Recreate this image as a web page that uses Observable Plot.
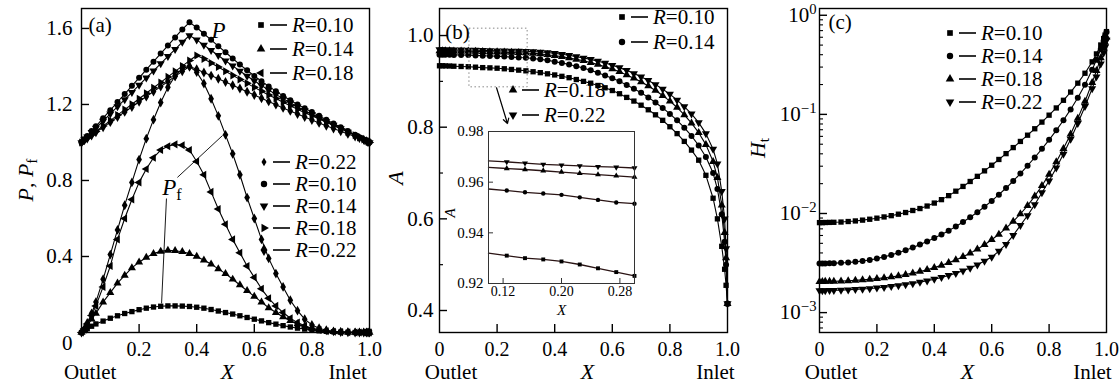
<!DOCTYPE html>
<html><head><meta charset="utf-8">
<script src="https://cdn.jsdelivr.net/npm/d3@7"></script>
<script src="https://cdn.jsdelivr.net/npm/@observablehq/plot@0.6"></script>
<style>
body{margin:0;background:#fff;}
#wrap{position:relative;width:1119px;height:392px;overflow:hidden;background:#fff;font-family:"Liberation Serif","DejaVu Serif","Times New Roman",serif;}
#wrap svg{position:absolute;top:0;}
#wrap svg text{font-family:"Liberation Serif","DejaVu Serif","Times New Roman",serif;}
</style></head><body><div id="wrap"></div>
<script>
// ---------------- data ----------------
const X = [0,0.01,0.02,0.035,0.05,0.075,0.1,0.125,0.15,0.175,0.2,0.225,0.25,0.275,0.3,0.325,0.35,0.375,0.4,0.425,0.45,0.475,0.5,0.525,0.55,0.575,0.6,0.625,0.65,0.675,0.7,0.725,0.75,0.775,0.8,0.825,0.85,0.875,0.9,0.925,0.95,0.965,0.98,0.99,0.995,1.0];
const R_LABELS = ["0.10","0.14","0.18","0.22"];

// (a) P and Pf
const P_R010 = [1.00,1.017,1.034,1.06,1.085,1.128,1.17,1.213,1.255,1.298,1.34,1.383,1.425,1.468,1.51,1.553,1.595,1.632,1.605,1.572,1.54,1.507,1.475,1.442,1.41,1.38,1.35,1.322,1.295,1.27,1.245,1.222,1.20,1.18,1.16,1.14,1.12,1.10,1.08,1.06,1.04,1.028,1.016,1.008,1.004,1.0];
const P_R014 = [1.00,1.015,1.03,1.053,1.076,1.113,1.151,1.189,1.226,1.264,1.302,1.34,1.377,1.415,1.453,1.49,1.528,1.563,1.54,1.512,1.485,1.458,1.43,1.403,1.376,1.35,1.325,1.30,1.276,1.253,1.23,1.209,1.188,1.168,1.148,1.129,1.11,1.091,1.073,1.055,1.037,1.026,1.015,1.008,1.004,1.0];
const P_R018 = [1.00,1.012,1.023,1.04,1.058,1.087,1.115,1.144,1.173,1.201,1.23,1.259,1.288,1.316,1.345,1.374,1.402,1.431,1.458,1.44,1.418,1.397,1.375,1.353,1.332,1.311,1.29,1.27,1.25,1.231,1.212,1.193,1.175,1.157,1.14,1.123,1.106,1.089,1.072,1.055,1.038,1.027,1.016,1.008,1.004,1.0];
const P_R022 = [1.00,1.011,1.021,1.037,1.054,1.08,1.107,1.134,1.161,1.187,1.214,1.241,1.268,1.294,1.321,1.348,1.375,1.40,1.385,1.368,1.352,1.335,1.318,1.301,1.284,1.267,1.25,1.233,1.216,1.199,1.182,1.166,1.15,1.134,1.118,1.103,1.088,1.073,1.059,1.045,1.031,1.023,1.014,1.007,1.003,1.0];
const Pf_R010 = [0,0.01,0.02,0.033,0.045,0.06,0.075,0.088,0.10,0.11,0.12,0.128,0.134,0.138,0.14,0.14,0.139,0.137,0.133,0.128,0.121,0.113,0.105,0.097,0.088,0.079,0.07,0.061,0.052,0.044,0.036,0.029,0.023,0.018,0.013,0.009,0.006,0.004,0.002,0.001,0,0,0,0,0,0];
const Pf_R014 = [0,0.015,0.035,0.07,0.10,0.16,0.21,0.26,0.30,0.34,0.37,0.395,0.415,0.427,0.432,0.43,0.425,0.415,0.40,0.38,0.36,0.335,0.31,0.28,0.25,0.22,0.19,0.16,0.13,0.105,0.082,0.062,0.045,0.032,0.022,0.014,0.009,0.005,0.003,0.002,0.001,0,0,0,0,0];
const Pf_R018 = [0,0.02,0.045,0.09,0.14,0.24,0.35,0.49,0.60,0.70,0.79,0.86,0.92,0.96,0.98,0.99,0.985,0.96,0.90,0.83,0.74,0.65,0.57,0.49,0.42,0.35,0.29,0.23,0.18,0.14,0.105,0.075,0.052,0.035,0.022,0.013,0.007,0.004,0.002,0.001,0,0,0,0,0,0];
const Pf_R022 = [0,0.02,0.05,0.10,0.16,0.28,0.41,0.54,0.67,0.79,0.91,1.02,1.12,1.21,1.29,1.35,1.39,1.40,1.37,1.31,1.23,1.14,1.04,0.94,0.83,0.71,0.60,0.49,0.39,0.31,0.24,0.17,0.115,0.07,0.04,0.022,0.012,0.006,0.003,0.001,0,0,0,0,0,0];

// (b) A
const A_R010 = [0.934,0.934,0.9338,0.9335,0.933,0.9325,0.932,0.931,0.930,0.9295,0.9287,0.9275,0.926,0.9245,0.923,0.921,0.919,0.9165,0.914,0.911,0.908,0.904,0.900,0.896,0.891,0.886,0.880,0.873,0.865,0.857,0.848,0.838,0.827,0.815,0.801,0.786,0.769,0.750,0.728,0.695,0.645,0.60,0.54,0.49,0.455,0.415];
const A_R014 = [0.958,0.958,0.958,0.9579,0.9578,0.9576,0.9573,0.9567,0.956,0.9555,0.955,0.954,0.953,0.952,0.9515,0.950,0.948,0.946,0.943,0.940,0.937,0.933,0.929,0.924,0.919,0.913,0.907,0.900,0.892,0.884,0.875,0.865,0.854,0.842,0.829,0.815,0.799,0.781,0.760,0.735,0.700,0.665,0.61,0.55,0.50,0.415];
const A_R018 = [0.9665,0.9665,0.9664,0.9662,0.9661,0.966,0.9658,0.9654,0.965,0.9645,0.964,0.9635,0.963,0.9625,0.962,0.961,0.960,0.958,0.956,0.954,0.951,0.948,0.945,0.941,0.937,0.932,0.927,0.921,0.914,0.907,0.899,0.890,0.880,0.869,0.857,0.843,0.827,0.809,0.788,0.762,0.725,0.69,0.63,0.57,0.515,0.415];
const A_R022 = [0.9692,0.9691,0.969,0.9689,0.9688,0.9686,0.9684,0.968,0.9675,0.967,0.9667,0.9664,0.9661,0.9659,0.9656,0.965,0.964,0.963,0.961,0.959,0.957,0.954,0.951,0.948,0.944,0.940,0.935,0.930,0.924,0.917,0.910,0.902,0.893,0.883,0.872,0.859,0.845,0.829,0.810,0.786,0.752,0.72,0.66,0.60,0.535,0.415];

// (c) Ht
const Ht_R010 = [0.00809,0.00809,0.00811,0.00813,0.00815,0.0082,0.0083,0.00841,0.00857,0.00875,0.00897,0.00923,0.00951,0.00984,0.01023,0.01072,0.01122,0.01189,0.01274,0.0138,0.01514,0.01679,0.01875,0.02104,0.02371,0.02692,0.03069,0.03508,0.04018,0.04624,0.05333,0.06166,0.07161,0.08356,0.09817,0.1161,0.1387,0.1679,0.2065,0.26,0.3388,0.4074,0.5012,0.5821,0.631,0.684];
const Ht_R014 = [0.003126,0.003126,0.003133,0.003141,0.003155,0.003177,0.003206,0.003251,0.003311,0.003396,0.003508,0.003648,0.003819,0.004027,0.004266,0.004539,0.004853,0.005224,0.005649,0.006138,0.006714,0.007396,0.008204,0.009162,0.0103,0.0117,0.0134,0.01549,0.01807,0.02128,0.02529,0.03034,0.03673,0.04487,0.05534,0.06902,0.0873,0.1122,0.1472,0.1995,0.2818,0.3548,0.4571,0.5495,0.6095,0.6761];
const Ht_R018 = [0.002056,0.002056,0.002061,0.002065,0.00207,0.00208,0.002094,0.002113,0.002138,0.002168,0.002203,0.002244,0.002291,0.00235,0.002421,0.002506,0.0026,0.00271,0.002844,0.002999,0.003184,0.003404,0.003664,0.003981,0.004365,0.004842,0.005433,0.006166,0.007112,0.008318,0.009886,0.01202,0.01496,0.01905,0.02483,0.03311,0.04519,0.0631,0.0912,0.1349,0.2089,0.2754,0.3715,0.4677,0.5309,0.6026];
const Ht_R022 = [0.001667,0.001667,0.001671,0.001675,0.001679,0.001687,0.001698,0.001714,0.00173,0.00175,0.001774,0.001803,0.001837,0.001875,0.001919,0.001968,0.002028,0.002094,0.002173,0.002265,0.002371,0.002495,0.002642,0.002818,0.003034,0.003311,0.003631,0.004169,0.004898,0.006026,0.007586,0.00955,0.0123,0.01622,0.02138,0.02884,0.03981,0.05623,0.08128,0.1202,0.182,0.2399,0.3236,0.4169,0.4786,0.5623];

// ticks
const X_TICKS = [0,0.2,0.4,0.6,0.8,1.0];
const A_PANEL_Y_TICKS = [0.4,0.8,1.2,1.6];
const B_PANEL_Y_TICKS = [0.4,0.6,0.8,1.0];
const B_PANEL_Y_MINOR = [0.5,0.7,0.9];
const C_PANEL_Y_TICKS = [1e-3,1e-2,1e-1,1];
const C_PANEL_Y_MINOR = [7e-4,8e-4,9e-4,2e-3,3e-3,4e-3,5e-3,6e-3,7e-3,8e-3,9e-3,2e-2,3e-2,4e-2,5e-2,6e-2,7e-2,8e-2,9e-2,0.2,0.3,0.4,0.5,0.6,0.7,0.8,0.9];
const INSET_X_TICKS = [0.12,0.20,0.28];
const INSET_Y_TICKS = [0.92,0.94,0.96,0.98];

// ---------------- drawing ----------------
const FONT = '"Liberation Serif","DejaVu Serif","Times New Roman",serif';
const wrap = document.getElementById("wrap");
const tidy = (ys) => X.map((x, i) => ({x, y: ys[i]}));
const fmt1 = d => d === 0 ? "0" : d.toFixed(1);
const baseStyle = {fontFamily: FONT, fontSize: "21px", background: "transparent", overflow: "visible", color: "black"};
const H = 392, MT = 8, MB = 60, FH = H - MT - MB;
const DOT_R = 3.0;

function seriesMarks(arrs, syms, r) {
  const m = [];
  arrs.forEach(ys => m.push(Plot.line(tidy(ys), {x: "x", y: "y", stroke: "black", strokeWidth: 1.1})));
  arrs.forEach((ys, i) => m.push(Plot.dot(tidy(ys), {x: "x", y: "y", r, fill: "black", stroke: "none", ...syms[i]})));
  return m;
}
const symMap = {square: d3.symbolSquare, circle: d3.symbolCircle, triangle: d3.symbolTriangle, diamond: d3.symbolDiamond};
function legend(svg, items, x, y0, dy) {
  const g = d3.select(svg).append("g").attr("font-family", FONT).attr("font-size", 21).attr("text-anchor", "start");
  items.forEach((it, i) => {
    const y = y0 + i * dy;
    g.append("path").attr("d", d3.symbol(symMap[it.symbol], it.area || 32)())
      .attr("transform", `translate(${x},${y}) rotate(${it.rotate || 0})`).attr("fill", "black");
    g.append("line").attr("x1", x + 9).attr("x2", x + 26).attr("y1", y).attr("y2", y).attr("stroke", "black").attr("stroke-width", 1.6);
    const t = g.append("text").attr("x", x + 31).attr("y", y).attr("dy", "0.35em").attr("text-anchor", "start");
    t.append("tspan").attr("font-style", "italic").text("R");
    t.append("tspan").text("=" + it.label);
  });
}
function yLabel(svg, x, y, parts, size = 22) {
  const t = d3.select(svg).append("text").attr("transform", `translate(${x},${y}) rotate(-90)`)
    .attr("text-anchor", "middle").attr("dy", "0.35em").attr("font-family", FONT).attr("font-size", size);
  parts.forEach(p => {
    const s = t.append("tspan").text(p.t);
    if (p.i) s.attr("font-style", "italic");
    if (p.sub) s.attr("font-size", "70%").attr("dy", "0.3em");
  });
  return t;
}
function bottomLabels(xo, xx, xi) {
  return [
    Plot.text(["Outlet"], {x: xo, text: d => d, frameAnchor: "bottom", dy: 46, fontSize: 21}),
    Plot.text(["X"], {x: xx, text: d => d, frameAnchor: "bottom", dy: 46, fontSize: 22, fontStyle: "italic"}),
    Plot.text(["Inlet"], {x: xi, text: d => d, frameAnchor: "bottom", dy: 46, fontSize: 21})
  ];
}
const axX = (ticks) => Plot.axisX(ticks, {tickSize: 0, tickPadding: 9, tickFormat: fmt1, label: null, fontSize: 20});

// ---- panel (a)
const yA = [0, 1.705];
const tkA = (yA[1] - yA[0]) * 8 / FH;
const symP = [{symbol: "circle"}, {symbol: "triangle", rotate: 180}, {symbol: "triangle", rotate: 90}, {symbol: "diamond"}];
const symPf = [{symbol: "square"}, {symbol: "triangle"}, {symbol: "triangle", rotate: -90}, {symbol: "diamond"}];
const chartA = Plot.plot({
  width: 373, height: H, marginLeft: 81, marginRight: 4, marginTop: MT, marginBottom: MB,
  x: {domain: [0, 1]}, y: {domain: yA}, style: baseStyle,
  marks: [
    ...seriesMarks([P_R010, P_R014, P_R018, P_R022], symP, DOT_R),
    ...seriesMarks([Pf_R010, Pf_R014, Pf_R018, Pf_R022], symPf, DOT_R),
    Plot.link([0], {x1: 0.333, y1: 0.816, x2: 0.49, y2: 1.037, stroke: "black", strokeWidth: 0.9}),
    Plot.link([0], {x1: 0.295, y1: 0.705, x2: 0.278, y2: 0.153, stroke: "black", strokeWidth: 0.9}),
    Plot.frame({stroke: "black", strokeWidth: 1.4}),
    Plot.ruleX(X_TICKS.slice(1, 5), {x: d => d, y1: yA[0], y2: yA[0] + tkA, stroke: "black", strokeWidth: 1.4}),
    Plot.ruleY(A_PANEL_Y_TICKS, {y: d => d, x1: 0, x2: 8 / 288, stroke: "black", strokeWidth: 1.4}),
    axX(X_TICKS.slice(1)),
    Plot.axisY(A_PANEL_Y_TICKS, {tickSize: 0, tickPadding: 9, tickFormat: fmt1, label: null}),
    Plot.axisY([0], {tickSize: 0, tickPadding: 9, dy: 11, tickFormat: fmt1, label: null}),
    Plot.text(["(a)"], {x: 0.024, y: 1.616, text: d => d, textAnchor: "start", fontSize: 21}),
    Plot.text(["P"], {x: 0.476, y: 1.59, text: d => d, fontSize: 23, fontStyle: "italic"}),
    ...bottomLabels(0.03, 0.507, 0.924)
  ]
});
chartA.style.left = "0px";
wrap.appendChild(chartA);
yLabel(chartA, 25, 180, [{t: "P", i: 1}, {t: ", "}, {t: "P", i: 1}, {t: "f", sub: 1}]);
{
  const sx = chartA.scale("x"), sy = chartA.scale("y");
  const t = d3.select(chartA).append("text").attr("x", sx.apply(0.316)).attr("y", sy.apply(0.763))
    .attr("text-anchor", "middle").attr("dy", "0.35em").attr("font-family", FONT).attr("font-size", 23);
  t.append("tspan").attr("font-style", "italic").text("P");
  t.append("tspan").attr("font-size", "70%").attr("dy", "0.3em").text("f");
}
legend(chartA, [
  {symbol: "square", label: R_LABELS[0]},
  {symbol: "triangle", label: R_LABELS[1]},
  {symbol: "triangle", rotate: -90, label: R_LABELS[2]}
], 261, 25, 24);
legend(chartA, [
  {symbol: "diamond", area: 22, label: R_LABELS[3]},
  {symbol: "circle", label: R_LABELS[0]},
  {symbol: "triangle", rotate: 180, label: R_LABELS[1]},
  {symbol: "triangle", rotate: 90, label: R_LABELS[2]},
  {symbol: "diamond", area: 42, label: R_LABELS[3]}
], 264, 162, 22);

// ---- panel (b)
const yB = [0.352, 1.059];
const tkB = (yB[1] - yB[0]) * 8 / FH;
const symB = [{symbol: "square"}, {symbol: "circle"}, {symbol: "triangle"}, {symbol: "triangle", rotate: 180}];
const chartB = Plot.plot({
  width: 373, height: H, marginLeft: 66, marginRight: 19, marginTop: MT, marginBottom: MB,
  x: {domain: [0, 1]}, y: {domain: yB}, style: baseStyle,
  marks: [
    ...seriesMarks([A_R010, A_R014, A_R018, A_R022], symB, DOT_R),
    Plot.rect([0], {x1: 0.104, x2: 0.306, y1: 0.887, y2: 1.015, fill: "none", stroke: "#888", strokeWidth: 1, strokeDasharray: "1.5,2.5"}),
    Plot.arrow([0], {x1: 0.198, y1: 0.886, x2: 0.236, y2: 0.808, stroke: "black", strokeWidth: 1.2, headLength: 7}),
    Plot.frame({stroke: "black", strokeWidth: 1.4}),
    Plot.ruleX(X_TICKS.slice(1, 5), {x: d => d, y1: yB[0], y2: yB[0] + tkB, stroke: "black", strokeWidth: 1.4}),
    Plot.ruleY(B_PANEL_Y_TICKS, {y: d => d, x1: 0, x2: 8 / 288, stroke: "black", strokeWidth: 1.4}),
    Plot.ruleY(B_PANEL_Y_MINOR, {y: d => d, x1: 0, x2: 4 / 288, stroke: "black", strokeWidth: 1.2}),
    axX(X_TICKS),
    Plot.axisY(B_PANEL_Y_TICKS, {tickSize: 0, tickPadding: 6, tickFormat: fmt1, label: null}),
    Plot.text(["(b)"], {x: 0.02, y: 1.0065, text: d => d, textAnchor: "start", fontSize: 21}),
    ...bottomLabels(0.04, 0.514, 0.958)
  ]
});
chartB.style.left = "373px";
wrap.appendChild(chartB);
yLabel(chartB, 22, 178, [{t: "A", i: 1}]);
legend(chartB, [{symbol: "square", label: R_LABELS[0]}, {symbol: "circle", label: R_LABELS[1]}], 249, 17, 25);
legend(chartB, [{symbol: "triangle", label: R_LABELS[2]}, {symbol: "triangle", rotate: 180, label: R_LABELS[3]}], 140, 90, 25);

// inset of (b)
const inX = X.map((x, i) => i).filter(i => X[i] >= 0.1 && X[i] <= 0.3);
const insetSeries = [A_R010, A_R014, A_R018, A_R022].map(ys => inX.map(i => ({x: X[i], y: ys[i]})));
const inMT = 13, inMB = 37, inH = 202;
const tkIn = 0.06 * 5 / (inH - inMT - inMB);
const inset = Plot.plot({
  width: 210, height: inH, marginLeft: 56, marginRight: 8, marginTop: inMT, marginBottom: inMB,
  x: {domain: [0.1, 0.3]}, y: {domain: [0.92, 0.98]},
  style: {...baseStyle, fontSize: "15px"},
  marks: [
    Plot.frame({fill: "white", stroke: "none"}),
    ...insetSeries.map(d => Plot.line(d, {x: "x", y: "y", stroke: "#2a1414", strokeWidth: 1.3})),
    ...insetSeries.map((d, i) => Plot.dot(d.filter(p => p.x > 0.11), {x: "x", y: "y", r: 2.2, fill: "black", ...symB[i]})),
    Plot.frame({stroke: "#333", strokeWidth: 1}),
    Plot.ruleX(INSET_X_TICKS, {x: d => d, y1: 0.92, y2: 0.92 + tkIn, stroke: "#333"}),
    Plot.ruleY(INSET_Y_TICKS, {y: d => d, x1: 0.1, x2: 0.1 + 0.2 * 5 / 146, stroke: "#333"}),
    Plot.axisX(INSET_X_TICKS, {tickSize: 0, tickPadding: 3, tickFormat: d => d.toFixed(2), label: null, fontSize: 14}),
    Plot.axisY(INSET_Y_TICKS, {tickSize: 0, tickPadding: 5, tickFormat: d => d.toFixed(2), label: null}),
    Plot.text(["X"], {x: 0.2, text: d => d, frameAnchor: "bottom", dy: 31, fontSize: 15, fontStyle: "italic"})
  ]
});
inset.style.left = "432px";
inset.style.top = "118px";
wrap.appendChild(inset);
yLabel(inset, 18, 95, [{t: "A", i: 1}], 15);

// ---- panel (c)
const yC = [6.3e-4, 1.17];
const logSpan = Math.log10(yC[1] / yC[0]);
const symC = symB;
const chartC = Plot.plot({
  width: 373, height: H, marginLeft: 73, marginRight: 13, marginTop: MT, marginBottom: MB,
  x: {domain: [0, 1]}, y: {type: "log", domain: yC}, style: baseStyle,
  marks: [
    ...seriesMarks([Ht_R010, Ht_R014, Ht_R018, Ht_R022], symC, DOT_R),
    Plot.frame({stroke: "black", strokeWidth: 1.4}),
    Plot.ruleX(X_TICKS.slice(1, 5), {x: d => d, y1: yC[0], y2: yC[0] * Math.pow(10, logSpan * 8 / FH), stroke: "black", strokeWidth: 1.4}),
    Plot.ruleY(C_PANEL_Y_TICKS, {y: d => d, x1: 0, x2: 8 / 287, stroke: "black", strokeWidth: 1.4}),
    Plot.ruleY(C_PANEL_Y_MINOR, {y: d => d, x1: 0, x2: 4 / 287, stroke: "black", strokeWidth: 1.1}),
    axX(X_TICKS),
    Plot.axisY(C_PANEL_Y_TICKS, {tickSize: 0, tickPadding: 3, tickFormat: d => "10^" + Math.round(Math.log10(d)), label: null}),
    Plot.text(["(c)"], {x: 0.031, y: 0.85, text: d => d, textAnchor: "start", fontSize: 21}),
    ...bottomLabels(0.04, 0.516, 0.951)
  ]
});
chartC.style.left = "746px";
wrap.appendChild(chartC);
d3.select(chartC).selectAll('g[aria-label="y-axis tick label"] text').each(function () {
  const s = this.textContent;
  if (!s.includes("^")) return;
  const [b, e] = s.split("^");
  const el = d3.select(this);
  el.text("");
  el.append("tspan").text(b);
  el.append("tspan").attr("font-size", "70%").attr("dy", "-0.55em").text(e === "0" ? "0" : "\u2212" + e.replace("-", ""));
});
yLabel(chartC, 11, 148, [{t: "H", i: 1}, {t: "t", sub: 1}]);
legend(chartC, [
  {symbol: "square", label: R_LABELS[0]},
  {symbol: "circle", label: R_LABELS[1]},
  {symbol: "triangle", label: R_LABELS[2]},
  {symbol: "triangle", rotate: 180, label: R_LABELS[3]}
], 204, 33, 23);
</script></body></html>
